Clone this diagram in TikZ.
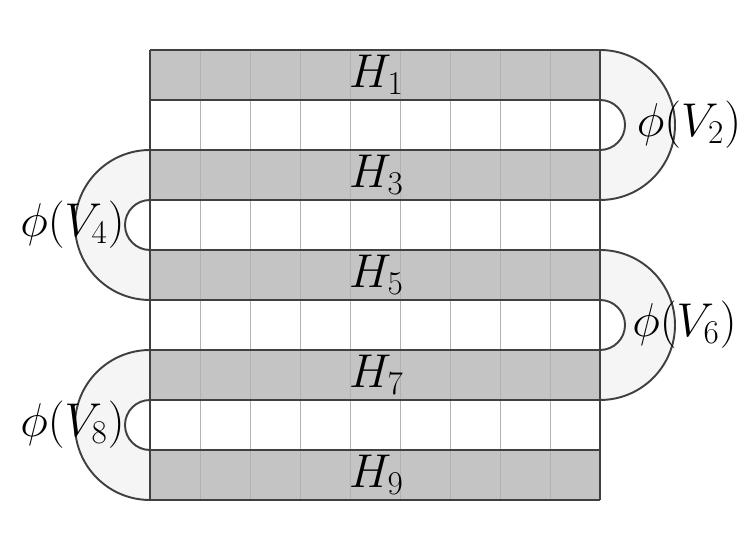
\RequirePackage{fix-cm}
\documentclass[tikz,border=0pt]{standalone}
\begin{document}
\begin{tikzpicture}[
  rowfill/.style={fill=black!23},
  arcfill/.style={fill=black!4},
  darkline/.style={draw=black!75, line width=1.1pt},
  gridline/.style={draw=black!30, line width=0.5pt},
  lab/.style={font=\fontsize{27}{32}\selectfont, inner sep=0pt}
]
\useasboundingbox (0,0) rectangle (14.98,11);
% gray rows
\foreach \r in {1,3,5,7,9} \fill[rowfill] (3,{10-\r}) rectangle (12,{11-\r});
% connecting half-annuli
\foreach \cy in {8.5,4.5}{
  \path[arcfill] (12,\cy+1.5) arc[start angle=90,end angle=-90,radius=1.5]
     -- (12,\cy-0.5) arc[start angle=-90,end angle=90,radius=0.5] -- cycle;
  \draw[darkline] (12,\cy+1.5) arc[start angle=90,end angle=-90,radius=1.5];
  \draw[darkline] (12,\cy-0.5) arc[start angle=-90,end angle=90,radius=0.5];
}
\foreach \cy in {6.5,2.5}{
  \path[arcfill] (3,\cy+1.5) arc[start angle=90,end angle=270,radius=1.5]
     -- (3,\cy-0.5) arc[start angle=270,end angle=90,radius=0.5] -- cycle;
  \draw[darkline] (3,\cy+1.5) arc[start angle=90,end angle=270,radius=1.5];
  \draw[darkline] (3,\cy-0.5) arc[start angle=270,end angle=90,radius=0.5];
}
% light grid
\foreach \x in {4,...,11} \draw[gridline] (\x,1) -- (\x,10);
% dark lines
\foreach \y in {1,...,10} \draw[darkline] (3,\y) -- (12,\y);
\draw[darkline] (3,1) -- (3,10);
\draw[darkline] (12,1) -- (12,10);
% labels
\foreach \r in {1,3,5,7,9} \node[lab] (h\r) at (7.53,{10.5-\r}) {$H_{\r}$};
\node[lab] (v2) at (13.78,8.5) {$\phi(V_2)$};
\node[lab] (v4) at (1.45,6.5) {$\phi(V_4)$};
\node[lab] (v6) at (13.69,4.5) {$\phi(V_6)$};
\node[lab] (v8) at (1.45,2.5) {$\phi(V_8)$};
\end{tikzpicture}
\end{document}
